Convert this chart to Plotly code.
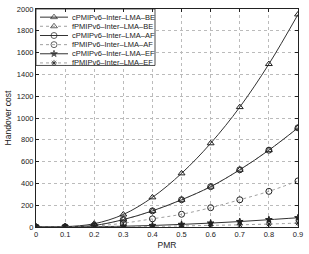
import plotly.graph_objects as go

pmr = [0, 0.1, 0.2, 0.3, 0.4, 0.5, 0.6, 0.7, 0.8, 0.9]
c_be = [0, 3, 30, 115, 272, 492, 768, 1100, 1495, 1950]
f_be = [0, 1, 14, 68, 148, 250, 370, 525, 705, 910]
c_af = [0, 1, 14, 68, 148, 250, 370, 525, 705, 910]
f_af = [0, 0.5, 8, 35, 75, 117, 177, 250, 327, 423]
c_ef = [0, 0.2, 2, 7, 14, 24, 36, 50, 67, 85]
f_ef = [0, 0.1, 1, 3, 6, 10, 15, 20, 27, 36]
tick_labels = ["0", "0.1", "0.2", "0.3", "0.4", "0.5", "0.6", "0.7", "0.8", "0.9"]

names = ["cPMIPv6\u2013Inter\u2013LMA\u2013BE", "fPMIPv6\u2013Inter\u2013LMA\u2013BE",
         "cPMIPv6\u2013Inter\u2013LMA\u2013AF", "fPMIPv6\u2013Inter\u2013LMA\u2013AF",
         "cPMIPv6\u2013Inter\u2013LMA\u2013EF", "fPMIPv6\u2013Inter\u2013LMA\u2013EF"]
series = [c_be, f_be, c_af, f_af, c_ef, f_ef]
symbols = ["triangle-up-open", "triangle-up-open", "circle-open", "circle-open", "star", "asterisk-open"]
dashes = ["solid", "dot", "solid", "dot", "solid", "dot"]
solid = [True, False, True, False, True, False]
msizes = [6, 6, 6, 6, 5, 5]

# plot area geometry (px)
W, H = 309, 254
L, R, T, B = 36, 11, 5, 27
pw, ph = W - L - R, H - T - B

fig = go.Figure()
for n, s, sym, d, sl, ms in zip(names, series, symbols, dashes, solid, msizes):
    fig.add_trace(go.Scatter(
        x=pmr, y=s, name=n, mode="lines+markers", showlegend=False,
        line=dict(color="#333333" if sl else "#888888", width=1 if sl else 0.8, dash=d, shape="spline"),
        marker=dict(symbol=sym, size=ms, color="#222222", line=dict(color="#222222", width=1)),
    ))

# compact custom legend (drawn on an overlay axis in plot-fraction units)
box_right = 119 / pw
box_bottom = 1 - 57.5 / ph
row_px = [8.3, 17.6, 27.0, 36.3, 45.6, 54.9]
sx0, sx1, sxm = 4 / pw, 32 / pw, 18 / pw
text_x = 34 / pw
fig.add_trace(go.Scatter(
    x=[0, box_right, box_right, 0, 0], y=[box_bottom, box_bottom, 1, 1, box_bottom],
    xaxis="x2", yaxis="y2", mode="lines", fill="toself", fillcolor="white",
    line=dict(color="#222", width=0.8), showlegend=False, hoverinfo="skip"))
for i, (n, sym, d, sl, ms) in enumerate(zip(names, symbols, dashes, solid, msizes)):
    yy = 1 - row_px[i] / ph
    fig.add_trace(go.Scatter(
        x=[sx0, sxm, sx1], y=[yy, yy, yy], xaxis="x2", yaxis="y2", showlegend=False,
        mode="lines+markers", hoverinfo="skip",
        line=dict(color="#333333" if sl else "#888888", width=1 if sl else 0.8, dash=d),
        marker=dict(symbol=sym, size=[0, ms, 0], color="#222222", line=dict(color="#222222", width=1)),
    ))
    fig.add_annotation(x=text_x, y=yy, xref="x2", yref="y2", text=n, showarrow=False,
                       xanchor="left", yanchor="middle", font=dict(size=7.5, color="#222"))

fig.update_layout(
    width=W, height=H,
    margin=dict(l=L, r=R, t=T, b=B),
    paper_bgcolor="white", plot_bgcolor="white",
    font=dict(family="Liberation Sans, Arial", size=7.5, color="#222"),
    showlegend=False,
    xaxis=dict(range=[0, 0.9], tickvals=pmr, ticktext=tick_labels,
               showline=True, mirror="ticks", linecolor="#222", linewidth=1,
               ticks="inside", ticklen=3, tickcolor="#222",
               showgrid=True, gridcolor="#bbbbbb", griddash="dot", gridwidth=0.8,
               zeroline=False,
               title=dict(text="PMR", font=dict(size=8.5), standoff=4)),
    yaxis=dict(range=[0, 2000], dtick=200,
               showline=True, mirror="ticks", linecolor="#222", linewidth=1,
               ticks="inside", ticklen=3, tickcolor="#222",
               showgrid=True, gridcolor="#bbbbbb", griddash="dot", gridwidth=0.8,
               zeroline=False,
               title=dict(text="Handover cost", font=dict(size=8.5), standoff=3)),
    xaxis2=dict(overlaying="x", range=[0, 1], visible=False, fixedrange=True),
    yaxis2=dict(overlaying="y", range=[0, 1], visible=False, fixedrange=True),
)

fig.write_html("out.html")
